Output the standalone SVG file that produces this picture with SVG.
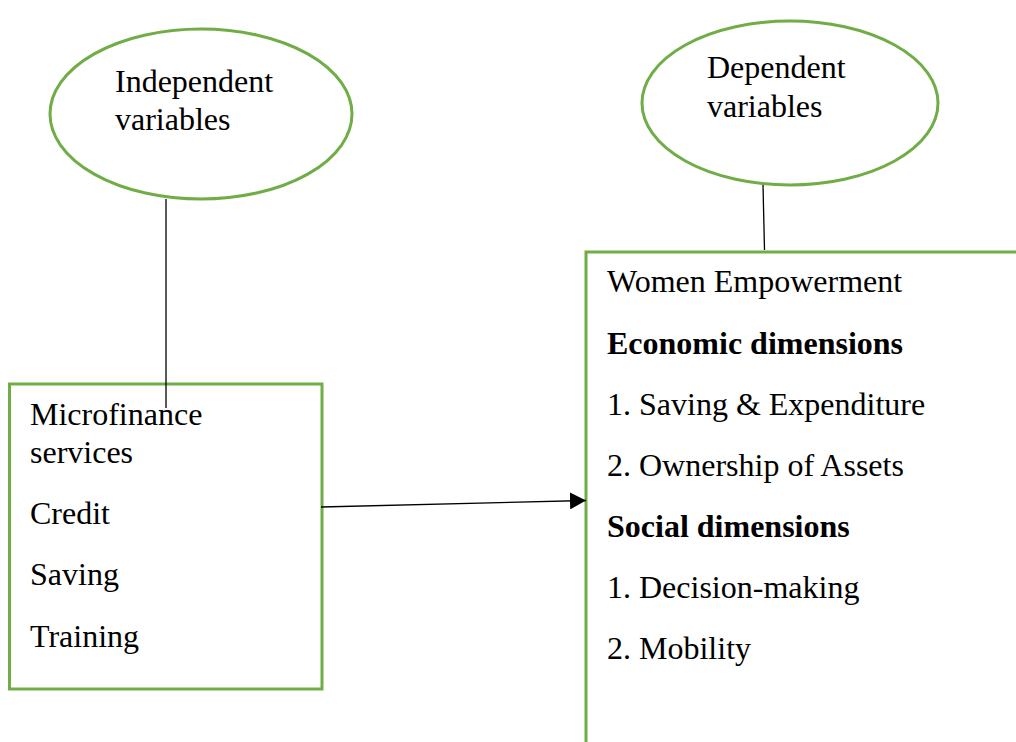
<svg xmlns="http://www.w3.org/2000/svg" width="1016" height="742" viewBox="0 0 1016 742">
  <defs>
    <style>
      .shape { fill: #ffffff; stroke: #70AD47; stroke-width: 3; }
      .wire { stroke: #000000; stroke-width: 1.3; fill: none; }
      text { font-family: "Liberation Serif", "Times New Roman", serif; font-size: 32px; fill: #000000; }
      .bold { font-weight: bold; }
    </style>
    <marker id="arrowhead" viewBox="0 0 16 17" refX="16" refY="8.5" markerWidth="16" markerHeight="17" markerUnits="userSpaceOnUse" orient="auto">
      <path d="M0,0 L16,8.5 L0,17 Z" fill="#000000"/>
    </marker>
  </defs>
  <rect width="1016" height="742" fill="#ffffff"/>

  <g id="independent-variables">
    <ellipse class="shape" cx="201" cy="114" rx="151" ry="85"/>
    <text x="115" y="92">Independent</text>
    <text x="115" y="130">variables</text>
  </g>

  <g id="dependent-variables">
    <ellipse class="shape" cx="790" cy="103" rx="148" ry="82"/>
    <text x="707" y="78">Dependent</text>
    <text x="707" y="117">variables</text>
  </g>

  <g id="microfinance-services">
    <rect class="shape" x="9.5" y="384" width="312.5" height="305"/>
    <text x="30" y="425">Microfinance</text>
    <text x="30" y="463">services</text>
    <text x="30" y="524">Credit</text>
    <text x="30" y="585">Saving</text>
    <text x="30" y="647">Training</text>
  </g>

  <g id="women-empowerment">
    <rect class="shape" x="586" y="252" width="440" height="500"/>
    <text x="607" y="292">Women Empowerment</text>
    <text class="bold" x="607" y="354">Economic dimensions</text>
    <text x="607" y="415">1. Saving &amp; Expenditure</text>
    <text x="607" y="476">2. Ownership of Assets</text>
    <text class="bold" x="607" y="537">Social dimensions</text>
    <text x="607" y="598">1. Decision-making</text>
    <text x="607" y="659">2. Mobility</text>
  </g>

  <g id="connectors">
    <line class="wire" x1="166" y1="199" x2="166" y2="408"/>
    <line class="wire" x1="763" y1="185" x2="764.5" y2="250"/>
    <line class="wire" x1="321" y1="507" x2="586" y2="500.5" marker-end="url(#arrowhead)"/>
  </g>
</svg>
